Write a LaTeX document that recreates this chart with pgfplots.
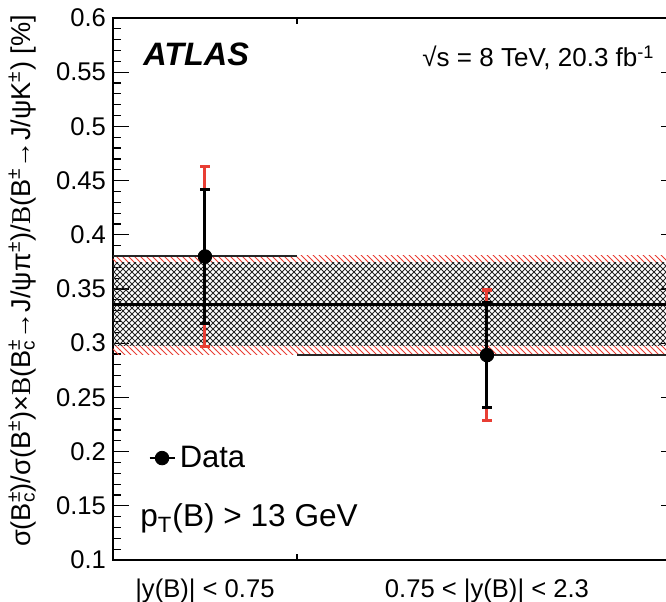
\documentclass[border=0pt]{standalone}
\usepackage{fontspec}
\setmainfont{Liberation Sans}
\newfontfamily\seriffont{Liberation Serif}
\usepackage{pgfplots}
\pgfplotsset{compat=1.18}
\usetikzlibrary{patterns,calc}
\definecolor{atlasred}{RGB}{232,62,52}
\newcommand{\subsup}[2]{\rlap{\textsuperscript{#2}}\textsubscript{#1}}
\begin{document}
\begin{tikzpicture}
\begin{axis}[
  scale only axis, width=282pt, height=271pt,
  xmin=0, xmax=2.3, ymin=0.1, ymax=0.6,
  xtick={0.375,1.525},
  xticklabels={{|y(B)| < 0.75},{0.75 < |y(B)| < 2.3}},
  xtick style={draw=none},
  xticklabel style={yshift=-6pt},
  ytick={0.1,0.15,0.2,0.25,0.3,0.35,0.4,0.45,0.5,0.55,0.6},
  minor y tick num=4,
  major tick length=8pt, minor tick length=4pt,
  tick label style={font=\fontsize{12.8}{15}\selectfont},
  /pgf/number format/assume math mode=true,
  yticklabel style={/pgf/number format/fixed, /pgf/number format/precision=2},
  ylabel={σ(B\subsup{c}{±})/σ(B\textsuperscript{±})×{\seriffont B}(B\subsup{c}{±}→J/ψπ\textsuperscript{±})/{\seriffont B}(B\textsuperscript{±}→J/ψK\textsuperscript{±}) [\%]},
  ylabel style={at={(axis description cs:-0.161,0.515)}, anchor=center, font=\fontsize{13.6}{16}\selectfont},
  axis line style={line width=0.8pt},
  every tick/.style={line width=0.6pt, black},
  legend style={at={(axis description cs:0.062,0.188)}, anchor=west, draw=none, fill=none, inner sep=0pt, font=\fontsize{15.5}{18}\selectfont},
  legend cell align=left,
  legend image code/.code={\draw[line width=1.2pt] (0pt,0pt) -- (12.5pt,0pt); \fill (6.25pt,0pt) circle (3.4pt);},
]
% uncertainty band
\addplot[draw=none, pattern=north west lines, pattern color=atlasred, forget plot] coordinates {(0,0.374) (2.3,0.374) (2.3,0.381) (0,0.381)} -- cycle;
\addplot[draw=none, pattern=north west lines, pattern color=atlasred, forget plot] coordinates {(0,0.290) (2.3,0.290) (2.3,0.298) (0,0.298)} -- cycle;
\addplot[draw=none, pattern=north east lines, pattern color=black!85, forget plot] coordinates {(0,0.298) (2.3,0.298) (2.3,0.374) (0,0.374)} -- cycle;
\addplot[draw=none, pattern=north west lines, pattern color=black!85, forget plot] coordinates {(0,0.298) (2.3,0.298) (2.3,0.374) (0,0.374)} -- cycle;
% average
\addplot[black, line width=1.5pt, forget plot] coordinates {(0,0.336) (2.3,0.336)};
% bin widths
\addplot[only marks, mark=none, forget plot,
  error bars/.cd, x dir=both, x explicit, error mark=none,
  error bar style={line width=1pt, black!85}]
  coordinates {(0.375,0.380) +- (0.375,0) (1.525,0.289) +- (0.775,0)};
% total uncertainty
\addplot[only marks, mark=none, forget plot,
  error bars/.cd, y dir=both, y explicit,
  error bar style={line width=1.5pt, atlasred},
  error mark options={rotate=90, mark size=2.4pt, line width=1.6pt, atlasred}]
  coordinates {(0.375,0.380) +- (0,0.083) (1.525,0.289) +- (0,0.060)};
% statistical uncertainty
\addplot[only marks, mark=none, forget plot,
  error bars/.cd, y dir=both, y explicit,
  error bar style={line width=1.5pt, black},
  error mark options={rotate=90, mark size=2.4pt, line width=1.4pt, black}]
  coordinates {(0.375,0.380) +- (0,0.062) (1.525,0.289) +- (0,0.0485)};
% data points
\addplot[only marks, mark=*, mark size=3.4pt, black, forget plot]
  coordinates {(0.375,0.380) (1.525,0.289)};
\addlegendimage{black}
\addlegendentry{Data}
% bin boundary tick
\draw[line width=0.6pt] (axis cs:0.75,0.1) -- ([yshift=3pt]axis cs:0.75,0.1);
\draw[line width=0.6pt] (axis cs:0.75,0.6) -- ([yshift=-3pt]axis cs:0.75,0.6);
% labels
\node[anchor=west, inner sep=0pt, font=\fontsize{16.2}{19}\selectfont\bfseries\itshape] at (axis description cs:0.053,0.932) {ATLAS};
\node[anchor=base east, inner sep=0pt, font=\fontsize{13}{15}\selectfont] at (axis description cs:0.961,0.910) {√s = 8 TeV, 20.3 fb\textsuperscript{-1}};
\node[anchor=base west, font=\fontsize{15.8}{18}\selectfont, inner sep=0pt] at (axis description cs:0.0479,0.0609) {p\textsubscript{T}(B) > 13 GeV};
\coordinate (o) at (rel axis cs:0,0);
\coordinate (t) at (rel axis cs:0,1);
\end{axis}
\pgfresetboundingbox
\path[use as bounding box] ($(o)+(-56.5pt,-21pt)$) rectangle ($(t)+(276.5pt,9pt)$);
\end{tikzpicture}
\end{document}
